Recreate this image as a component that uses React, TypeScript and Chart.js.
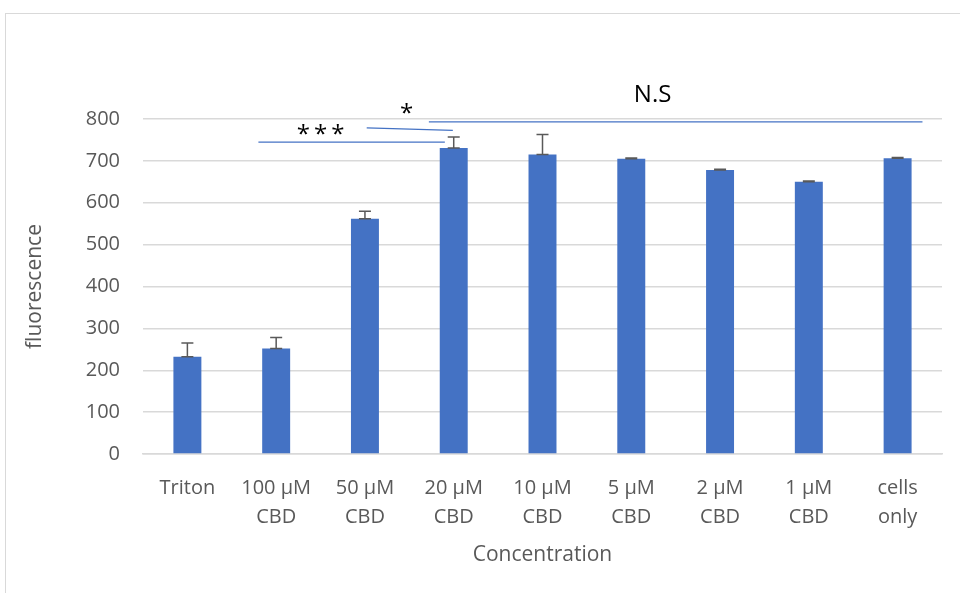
import React, { useEffect, useRef } from 'react';
import { Chart, registerables } from 'chart.js';

Chart.register(...registerables);

const categories: string[][] = [
  ['Triton'],
  ['100 µM', 'CBD'],
  ['50 µM', 'CBD'],
  ['20 µM', 'CBD'],
  ['10 µM', 'CBD'],
  ['5 µM', 'CBD'],
  ['2 µM', 'CBD'],
  ['1 µM', 'CBD'],
  ['cells', 'only'],
];
const means = [232, 252, 562, 731, 715, 705, 678, 650, 706];
const errorsPlus = [33, 26, 18, 26, 48, 2, 2, 2, 2];

const yMin = 0;
const yMax = 800;
const yStep = 100;

// significance annotations in data coordinates (category index, value)
const sigLines = [
  { x1: 0.8, y1: 745, x2: 2.9, y2: 745 },
  { x1: 2.02, y1: 779, x2: 2.99, y2: 773 },
  { x1: 2.72, y1: 793, x2: 8.28, y2: 793 },
];
const sigTexts = [
  { text: '*\u2009*\u2009*', x: 1.5, y: 762 },
  { text: '*', x: 2.47, y: 812 },
  { text: 'N.S', x: 5.24, y: 857 },
];

const FONT = "'Open Sans', sans-serif";
const TEXT = '#595959';
const BAR = '#4472C4';
const GRID = '#D9D9D9';

const errorBarPlugin = {
  id: 'errorBars',
  afterDatasetsDraw(chart: any) {
    const meta = chart.getDatasetMeta(0);
    const y = chart.scales.y;
    const ctx = chart.ctx;
    ctx.save();
    ctx.strokeStyle = '#595959';
    ctx.lineWidth = 1.5;
    meta.data.forEach((bar: any, i: number) => {
      const x = bar.x;
      const top = y.getPixelForValue(means[i] + errorsPlus[i]);
      const base = y.getPixelForValue(means[i]);
      ctx.beginPath();
      ctx.moveTo(x, base);
      ctx.lineTo(x, top);
      ctx.moveTo(x - 6, top);
      ctx.lineTo(x + 6, top);
      ctx.moveTo(x - 6, base);
      ctx.lineTo(x + 6, base);
      ctx.stroke();
    });
    ctx.restore();
  },
};

const annotationPlugin = {
  id: 'sigAnnotations',
  afterDraw(chart: any) {
    const xs = chart.scales.x;
    const ys = chart.scales.y;
    const ctx = chart.ctx;
    ctx.save();
    ctx.strokeStyle = BAR;
    ctx.lineWidth = 1.3;
    sigLines.forEach((l) => {
      ctx.beginPath();
      ctx.moveTo(xs.getPixelForValue(l.x1), ys.getPixelForValue(l.y1));
      ctx.lineTo(xs.getPixelForValue(l.x2), ys.getPixelForValue(l.y2));
      ctx.stroke();
    });
    ctx.fillStyle = '#000000';
    ctx.textAlign = 'center';
    ctx.textBaseline = 'middle';
    sigTexts.forEach((t) => {
      ctx.font = `24px ${FONT}`;
      ctx.fillText(t.text, xs.getPixelForValue(t.x), ys.getPixelForValue(t.y));
    });
    ctx.restore();
  },
};

export default function App() {
  const ref = useRef<HTMLCanvasElement | null>(null);

  useEffect(() => {
    if (!ref.current) return;
    const chart = new Chart(ref.current, {
      type: 'bar',
      data: {
        labels: categories,
        datasets: [
          {
            data: means,
            backgroundColor: BAR,
            borderWidth: 0,
            categoryPercentage: 1,
            barPercentage: 0.315,
          },
        ],
      },
      options: {
        responsive: false,
        animation: false,
        layout: { padding: { top: 119, left: 0, right: 18, bottom: 0 } },
        plugins: {
          legend: { display: false },
          tooltip: { enabled: false },
        },
        scales: {
          x: {
            grid: { display: false, drawTicks: false },
            border: { display: true, color: GRID, width: 1.5 },
            ticks: {
              color: TEXT,
              font: { family: FONT, size: 20, lineHeight: 1.45 },
              padding: 20,
              maxRotation: 0,
              autoSkip: false,
            },
            title: {
              display: true,
              text: 'Concentration',
              color: TEXT,
              font: { family: FONT, size: 21 },
              padding: { top: 0, bottom: 25 },
            },
            afterFit(scale: any) {
              scale.height = 139;
            },
          },
          y: {
            min: yMin,
            max: yMax,
            ticks: {
              stepSize: yStep,
              color: TEXT,
              font: { family: FONT, size: 20 },
              padding: 23,
            },
            grid: { color: GRID, lineWidth: 1.5, drawTicks: false },
            border: { display: false },
            title: {
              display: true,
              text: 'fluorescence',
              color: TEXT,
              font: { family: FONT, size: 21 },
              padding: { top: 22, bottom: 0 },
            },
            afterFit(scale: any) {
              scale.width = 143;
            },
          },
        },
      },
      plugins: [errorBarPlugin, annotationPlugin],
    });
    return () => chart.destroy();
  }, []);

  return (
    <div
      style={{
        position: 'fixed',
        left: 0,
        top: 0,
        width: 960,
        height: 593,
        overflow: 'hidden',
        background: '#ffffff',
      }}
    >
      <div
        style={{
          position: 'absolute',
          left: 5,
          top: 13,
          width: 2000,
          height: 2000,
          borderLeft: `1.5px solid ${GRID}`,
          borderTop: `1.5px solid ${GRID}`,
        }}
      />
      <canvas
        ref={ref}
        width={960}
        height={593}
        style={{ position: 'absolute', left: 0, top: 0, width: 960, height: 593 }}
      />
    </div>
  );
}
